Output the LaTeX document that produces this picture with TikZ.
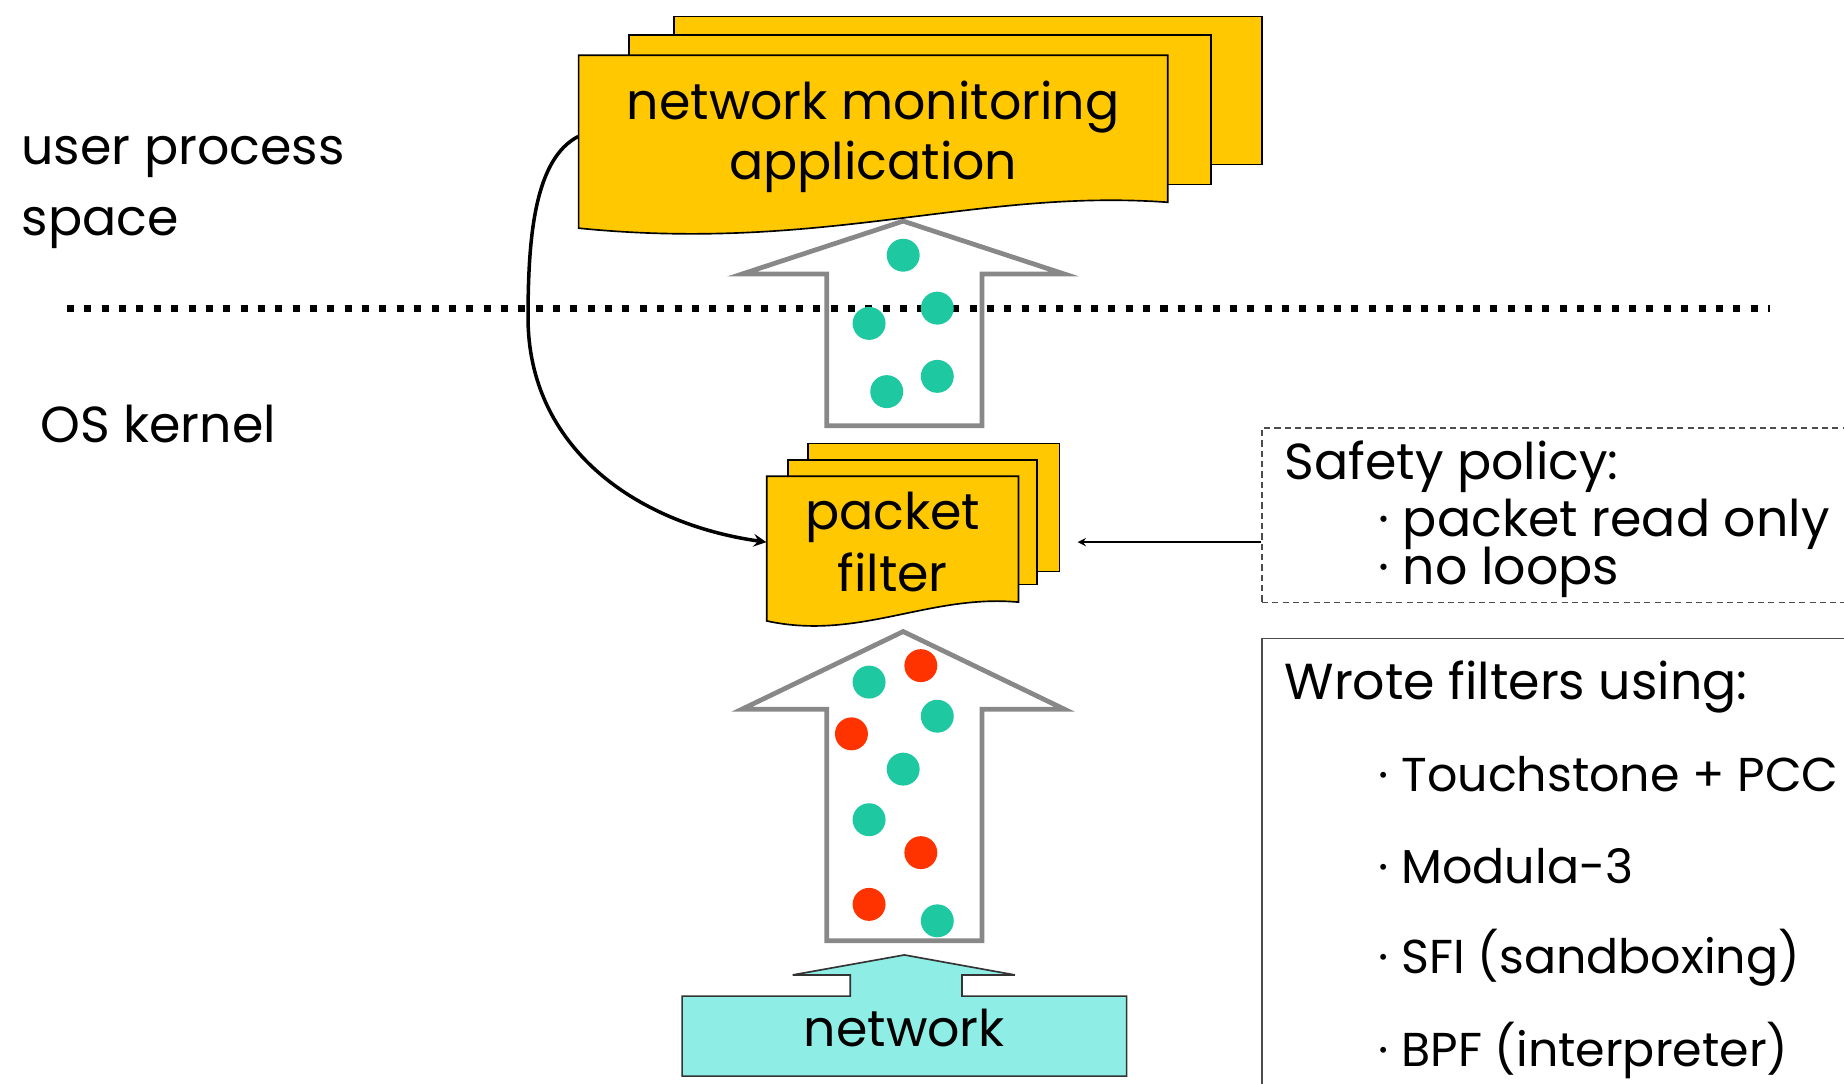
\documentclass[tikz,border=0pt]{standalone}
\usepackage{fontspec}
\setmainfont{Poppins}
\usepackage{tikz}
\usetikzlibrary{arrows,positioning}

\definecolor{docyellow}{RGB}{255,200,0}
\definecolor{okgreen}{RGB}{30,200,160}
\definecolor{badred}{RGB}{255,51,0}
\definecolor{netcyan}{RGB}{142,238,230}
\definecolor{flowgray}{RGB}{136,136,136}

\tikzstyle{txt} = 
[
	font = \fontsize{24.5}{28}\selectfont,
	inner sep = 0pt
]
\tikzstyle{tooltxt} = 
	[
		txt,
		anchor = base west,
		font = \fontsize{23}{28}\selectfont
	]
\tikzstyle{doctext} = 
	[
		txt,
		align = center,
		font = \fontsize{24.5}{29}\selectfont
	]
\tikzstyle{sheet} = 
	[
		draw = black, 
		line width = 0.8pt, 
		fill = docyellow
	]
\tikzstyle{flow} = 
	[
		draw = flowgray, 
		line width = 2.3pt
	]
\tikzstyle{divider} = 
	[
		line width = 3.4pt, 
		dash pattern = on 3.4pt off 5pt
	]
\tikzstyle{policybox} = 
	[
		rectangle,
		draw = black!70,
		line width = 0.6pt,
		dash pattern = on 3pt off 2pt
	]
\tikzstyle{toolbox} = 
	[
		rectangle,
		draw = black!70,
		line width = 0.8pt
	]
\tikzstyle{netbox} = 
	[
		draw = black!80, 
		line width = 0.8pt, 
		fill = netcyan
	]
\tikzstyle{arrow} = [line width=1.7pt,->,>=stealth]
\tikzstyle{pointer} = [line width=0.8pt,->,>=stealth]

\begin{document}
\begin{tikzpicture}[x=0.02cm, y=-0.02cm]
	\useasboundingbox (0,0) rectangle (1568,921);
	\clip (0,0) rectangle (1568,921);
	
	% layers
	\node
	(userproc)
	[
		txt,
		anchor = base west
	]
	at (18,140)
	{user process};
	
	\node
	(userspace)
	[
		txt,
		anchor = base west
	]
	at (18,200)
	{space};
	
	\node
	(kernel)
	[
		txt,
		anchor = base west
	]
	at (34,376)
	{OS kernel};
	
	% packets going up
	\draw [flow] (768,188) -- (905,233) -- (835,233) -- (835,362) -- (703,362) -- (703,233) -- (631,233) -- cycle;
	\draw [flow] (768,537) -- (905,603) -- (835,603) -- (835,800) -- (703,800) -- (703,603) -- (631,603) -- cycle;
	
	\draw [divider] (57,262) -- (1505,262);
	
	\foreach \px/\py in {768/217, 797/262, 739/275, 797/320, 754/333, 739/580, 797/609, 768/654, 739/697, 797/783}
		\fill [okgreen] (\px,\py) circle (14);
	\foreach \px/\py in {783/566, 724/624, 783/725, 739/769}
		\fill [badred] (\px,\py) circle (14);
	
	% application
	\filldraw [sheet] (573,14) rectangle (1073,140);
	\filldraw [sheet] (535,30) rectangle (1030,157);
	\filldraw [sheet] (492,47) -- (993,47) -- (993,172) .. controls (830,160) and (700,215) .. (492,194) -- cycle;
	
	\node
	(app)
	[
		doctext,
		minimum width = 10.02cm
	]
	at (742.5,116)
	{
		network monitoring\\application
	};
	
	% filter
	\filldraw [sheet] (687,377) rectangle (901,486);
	\filldraw [sheet] (670,391) rectangle (882,497);
	\filldraw [sheet] (652,405) -- (866,405) -- (866,512) .. controls (790,505) and (730,545) .. (652,528) -- cycle;
	
	\node
	(filter)
	[
		doctext,
		font = \fontsize{24.5}{30}\selectfont,
		minimum width = 4.28cm
	]
	at (759,461)
	{
		packet\\filter
	};
	
	% network
	\filldraw [netbox] (580,847) -- (723,847) -- (723,829) -- (674,829) -- (769,812) -- (863,829) -- (818,829) -- (818,847) -- (958,847) -- (958,915) -- (580,915) -- cycle;
	
	\node
	(network)
	[txt]
	at (769,874)
	{network};
	
	% safety policy
	\node
	(safety)
	[
		policybox,
		minimum width = 10.54cm,
		minimum height = 2.96cm
	]
	at (1336.5,438)
	{};
	
	\node
	(safetytitle)
	[
		txt,
		anchor = base west
	]
	at (1092,408)
	{Safety policy:};
	
	\node
	(readonly)
	[
		txt,
		anchor = base west
	]
	at (1172,456)
	{· packet read only};
	
	\node
	(noloops)
	[
		txt,
		anchor = base west
	]
	at (1172,497)
	{· no loops};
	
	% how filters were written
	\node
	(tools)
	[
		toolbox,
		minimum width = 10.54cm,
		minimum height = 7.94cm
	]
	at (1336.5,741.5)
	{};
	
	\node
	(toolstitle)
	[
		txt,
		anchor = base west
	]
	at (1092,595)
	{Wrote filters using:};
	
	\node
	(touchstone)
	[tooltxt]
	at (1172,673)
	{· Touchstone + PCC};
	
	\node
	(modula)
	[tooltxt]
	at (1172,751)
	{· Modula-3};
	
	\node
	(sfi)
	[tooltxt]
	at (1172,828)
	{· SFI (sandboxing)};
	
	\node
	(bpf)
	[tooltxt]
	at (1172,907)
	{· BPF (interpreter)};
	
	\draw [arrow] (app.west) .. controls (455,135) and (449,200) .. (449,270) .. controls (449,380) and (540,445) .. (filter.west);
	\draw [pointer] (safety.west |- filter.east) -- ([xshift=1cm]filter.east);
	
\end{tikzpicture}
\end{document}
